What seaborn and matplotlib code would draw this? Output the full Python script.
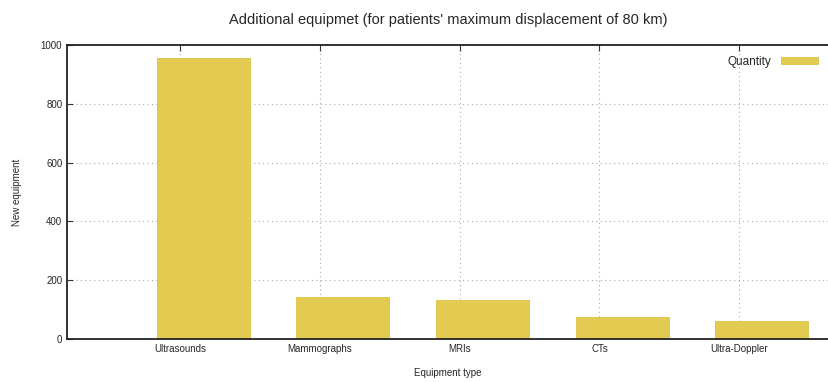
import numpy as np
import pandas as pd
import matplotlib
matplotlib.use("Agg")
import matplotlib.pyplot as plt
import seaborn as sns

# dados
equipamentos = ['Ultrasounds', 'Mammographs', 'MRIs', 'CTs', 'Ultra-Doppler']
quantidade = [957, 142, 131, 74, 62]

df = pd.DataFrame({'Equipment': equipamentos, 'Quantity': quantidade})

sns.set_style('white')
plt.rcParams['font.family'] = ['Liberation Sans', 'DejaVu Sans']

fig = plt.figure(figsize=(8.29, 3.82), dpi=100)
ax = fig.add_axes([0.081, 0.113, 0.919, 0.769])

cor = '#e3cb52'
sns.barplot(data=df, x='Equipment', y='Quantity', color=cor, width=0.666,
            saturation=1, edgecolor='#dcc248', linewidth=0.6, label='Quantity', ax=ax)

# ticks do gnuplot ficam deslocados para a esquerda da barra
offset = 0.163
pos = np.arange(len(equipamentos)) - offset
ax.set_xticks(pos, equipamentos, fontsize=7)
ax.set_xlim(-0.974, 4.48)
ax.set_ylim(0, 1000)
ax.set_yticks([0, 200, 400, 600, 800, 1000])
ax.tick_params(axis='y', labelsize=7)
ax.tick_params(direction='in', length=4, width=0.8, color='#333333', top=True, left=True, bottom=True)

ax.grid(True, linestyle=(0, (1, 3)), color='#aaaaaa', linewidth=0.8)
ax.set_axisbelow(True)

for lado in ['top', 'bottom', 'left', 'right']:
    ax.spines[lado].set_color('#222222')
    ax.spines[lado].set_linewidth(1.3)

ax.set_xlabel('Equipment type', fontsize=7)
ax.set_ylabel('New equipment', fontsize=7)
ax.xaxis.set_label_coords(0.5, -0.098)
ax.yaxis.set_label_coords(-0.059, 0.5)
ax.set_title("Additional equipmet (for patients' maximum displacement of 80 km)",
             fontsize=10.5, pad=15)

leg = ax.legend(loc='upper right', frameon=False, fontsize=8.5, markerfirst=False,
                handlelength=3.2, handleheight=0.6, borderaxespad=0.5)

fig.savefig('out.png', dpi=100)
